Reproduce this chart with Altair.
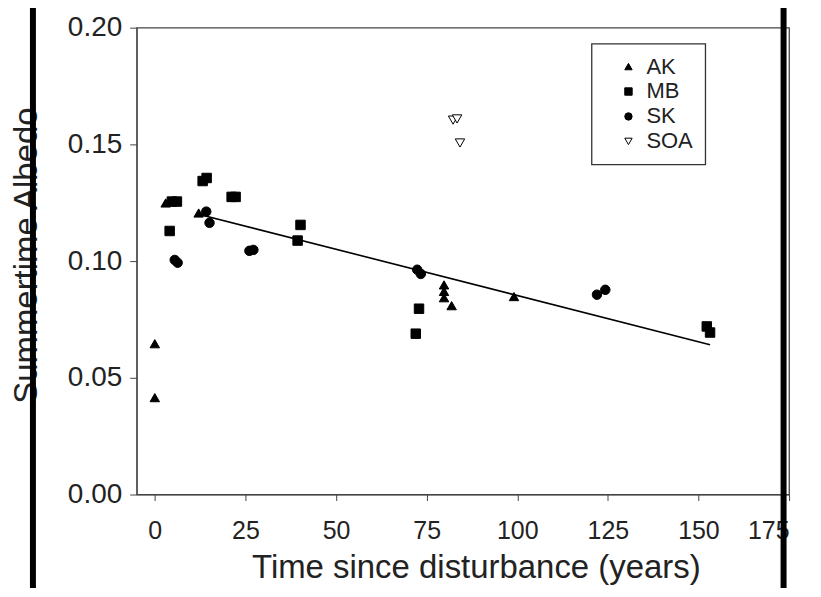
import altair as alt
import pandas as pd

# ---- data ----
ak_x = [0.0, 0.0, 3.0, 12.1, 79.8, 79.8, 79.8, 81.9, 99.1]
ak_y = [0.0646, 0.0415, 0.1249, 0.1206, 0.0898, 0.0870, 0.0843, 0.0809, 0.0848]

mb_x = [4.7, 6.1, 4.1, 13.2, 14.3, 21.2, 22.3, 40.2, 39.4, 72.9, 72.0, 152.3, 153.2]
mb_y = [0.1255, 0.1255, 0.1129, 0.1343, 0.1356, 0.1275, 0.1275, 0.1155, 0.1088,
        0.0796, 0.0689, 0.0720, 0.0694]

sk_x = [5.5, 6.3, 14.2, 15.1, 26.1, 27.2, 72.4, 73.4, 122.0, 124.3]
sk_y = [0.1005, 0.0993, 0.1212, 0.1164, 0.1044, 0.1048, 0.0963, 0.0945, 0.0856, 0.0877]

soa_x = [82.3, 83.4, 84.2]
soa_y = [0.1604, 0.1609, 0.1506]

fit_x = [11.8, 153.2]
fit_y = [0.1202, 0.0642]

series_names = ["AK", "MB", "SK", "SOA"]
x_ticks = [0, 25, 50, 75, 100, 125, 150, 175]
y_ticks = [0.00, 0.05, 0.10, 0.15, 0.20]

rows = []
for name, xs, ys in [("AK", ak_x, ak_y), ("MB", mb_x, mb_y), ("SK", sk_x, sk_y), ("SOA", soa_x, soa_y)]:
    for a, b in zip(xs, ys):
        rows.append({"series": name, "t": a, "albedo": b})
pts = pd.DataFrame(rows)
fit = pd.DataFrame({"t": fit_x, "albedo": fit_y})

FONT = "Liberation Sans"
W, H = 654, 468

xscale = alt.Scale(domain=[-5, 175], nice=False, zero=False)
yscale = alt.Scale(domain=[0, 0.2], nice=False)

xaxis = alt.Axis(values=x_ticks, grid=False, tickSize=6, labelPadding=18,
                 labelFontSize=25, titleFontSize=33, titleFontWeight="normal",
                 titleX=340, titleY=57, titleBaseline="top",
                 domainColor="#444", tickColor="#444", labelColor="#222", titleColor="#222")
yaxis = alt.Axis(values=y_ticks, format=".2f", grid=False, tickSize=7, labelPadding=8,
                 labelFontSize=28, titleFontSize=33, titleFontWeight="normal",
                 titleX=-93, titleY=228, titleAngle=-90, titleAlign="center", titleBaseline="bottom",
                 domainColor="#444", tickColor="#444", labelColor="#222", titleColor="#222")

points = alt.Chart(pts).mark_point(filled=False, size=90, stroke="black", strokeWidth=1, opacity=1).encode(
    x=alt.X("t:Q", scale=xscale, axis=xaxis, title="Time since disturbance (years)"),
    y=alt.Y("albedo:Q", scale=yscale, axis=yaxis, title="Summertime Albedo"),
    shape=alt.Shape("series:N", title=None,
                    scale=alt.Scale(domain=series_names,
                                    range=["triangle-up", "square", "circle", "triangle-down"])),
    fill=alt.Fill("series:N", title=None,
                  scale=alt.Scale(domain=series_names, range=["black", "black", "black", "white"])),
)

line = alt.Chart(fit).mark_line(color="black", strokeWidth=1.6).encode(
    x=alt.X("t:Q", scale=xscale),
    y=alt.Y("albedo:Q", scale=yscale),
)

# dark scan bars visible in the reference image
one = pd.DataFrame({"k": [0]})
bar_left = alt.Chart(one).mark_rule(color="black", strokeWidth=6).encode(
    x=alt.value(-104), y=alt.value(-40), y2=alt.value(600),
)
bar_right = alt.Chart(one).mark_rule(color="black", strokeWidth=6).encode(
    x=alt.value(648.5), y=alt.value(-40), y2=alt.value(600),
)

chart = alt.layer(line, points, bar_left, bar_right).properties(
    width=W, height=H,
    autosize=alt.AutoSizeParams(type="none"),
    padding={"left": 129, "top": 19, "right": 24, "bottom": 93},
).configure_view(stroke="#444", strokeWidth=1.3).configure_legend(
    orient="none", legendX=456, legendY=16, strokeColor="#333", strokeWidth=1.3,
    padding=12, labelFontSize=22, labelFont=FONT, symbolSize=55, rowPadding=3,
    symbolOffset=14, labelOffset=7, symbolStrokeWidth=1,
    labelColor="#222", fillColor="white",
).configure_axis(labelFont=FONT, titleFont=FONT)

chart.save("out.html", embed_options={"renderer": "svg", "actions": False})
